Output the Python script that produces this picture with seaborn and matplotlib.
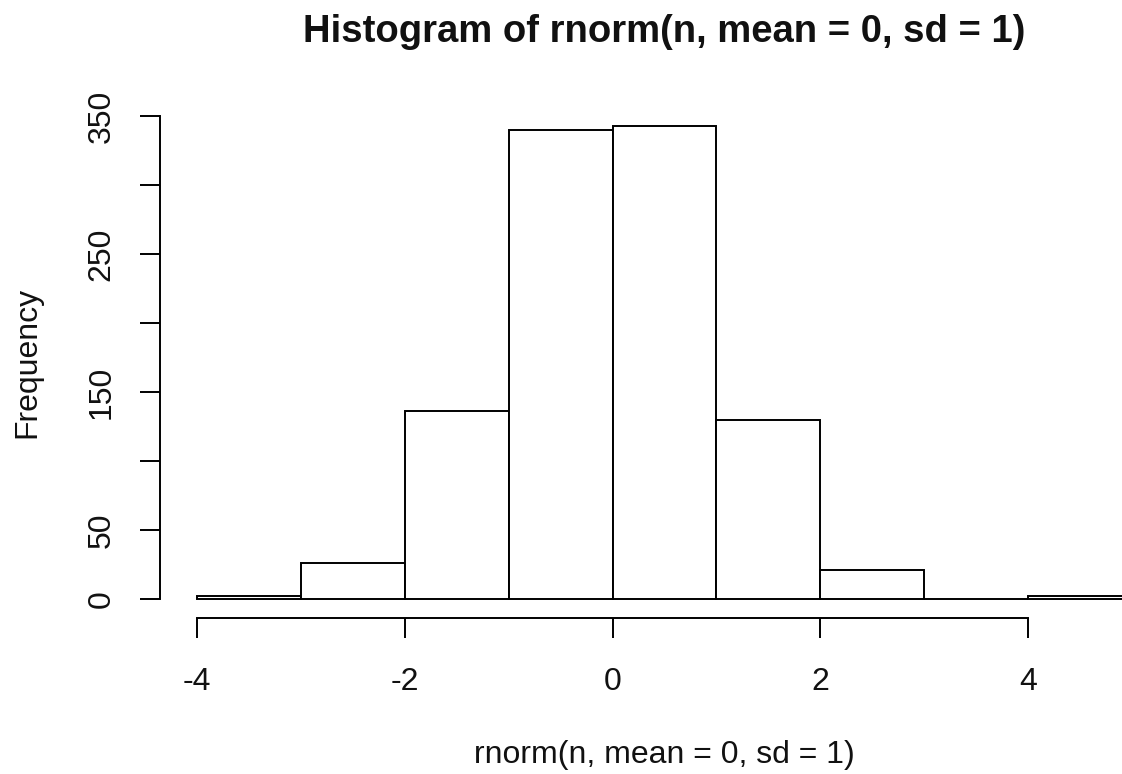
import matplotlib
matplotlib.use("Agg")
import matplotlib.pyplot as plt
import numpy as np
import pandas as pd
import seaborn as sns

# Histogram of 1000 standard normal draws, binned at unit width
bin_edges = [-4, -3, -2, -1, 0, 1, 2, 3, 4, 5]
counts = [2, 26, 136, 340, 343, 130, 21, 0, 2]
x_ticks = [-4, -2, 0, 2, 4]
y_ticks = [0, 50, 100, 150, 200, 250, 300, 350]
y_tick_labels = ["0", "50", "", "150", "", "250", "", "350"]

title = "Histogram of rnorm(n, mean = 0, sd = 1)"
x_label = "rnorm(n, mean = 0, sd = 1)"
y_label = "Frequency"

sns.set_style("white")
plt.rcParams["font.family"] = ["Liberation Sans", "DejaVu Sans"]

df = pd.DataFrame({
    "mid": [(a + b) / 2 for a, b in zip(bin_edges[:-1], bin_edges[1:])],
    "n": counts,
})

fig = plt.figure(figsize=(11.22, 7.74), dpi=100)
ax = fig.add_axes([0.1422, 0.2013, 0.9001, 0.6609])

sns.histplot(data=df, x="mid", weights="n", bins=bin_edges, ax=ax,
             color="white", edgecolor="black", linewidth=1.4, alpha=1)

# R-style 4% padding around the data range
lo, hi = bin_edges[0], bin_edges[-1]
span = hi - lo
ax.set_xlim(lo - 0.04 * span, hi + 0.04 * span)
top = max(counts)
ax.set_ylim(-0.04 * top, 1.04 * top)

for side in ("top", "right"):
    ax.spines[side].set_visible(False)
ax.spines["left"].set_bounds(y_ticks[0], y_ticks[-1])
ax.spines["bottom"].set_bounds(x_ticks[0], x_ticks[-1])
for side in ("left", "bottom"):
    ax.spines[side].set_linewidth(1.4)
    ax.spines[side].set_color("black")

ax.set_xticks(x_ticks)
ax.set_xticklabels([str(t) for t in x_ticks])
ax.set_yticks(y_ticks)
ax.set_yticklabels(y_tick_labels)
ax.tick_params(axis="both", bottom=True, left=True, direction="out",
               length=14.4, width=1.4, color="black", labelsize=23,
               labelcolor="#111111")
ax.tick_params(axis="x", pad=20.5)
ax.tick_params(axis="y", pad=16.5)
for lab in ax.get_yticklabels():
    lab.set_rotation(90)
    lab.set_va("center")

ax.set_title(title, fontsize=27.5, fontweight="bold", pad=46.5, color="#111111")
ax.set_xlabel(x_label, fontsize=23, color="#111111")
ax.set_ylabel(y_label, fontsize=23, color="#111111")
ax.xaxis.set_label_coords(0.5, -0.238)
ax.yaxis.set_label_coords(-0.116, 0.5)

fig.savefig("out.png", dpi=100, facecolor="white")
